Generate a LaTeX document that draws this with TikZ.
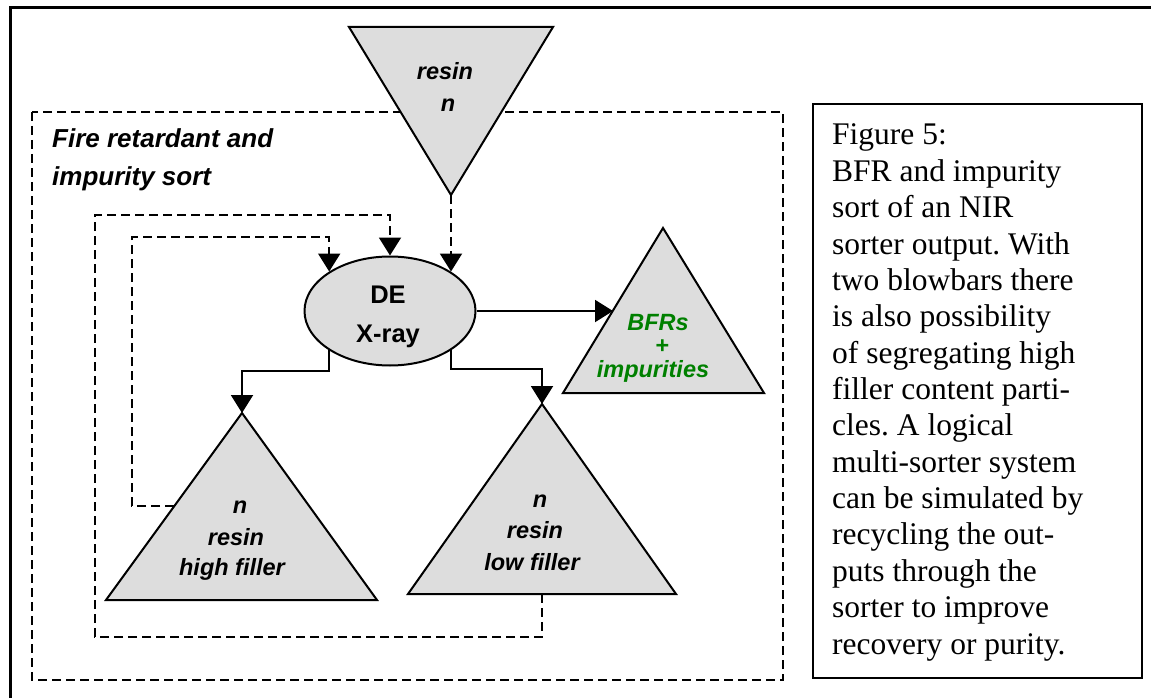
\documentclass[tikz,border=0pt]{standalone}
\usepackage{fontspec}
\setmainfont{Liberation Serif}
\newfontfamily\arialf{Liberation Sans}
\usetikzlibrary{arrows.meta,shapes.geometric}
\definecolor{boxgray}{RGB}{221,221,221}
\definecolor{bfrgreen}{RGB}{0,128,0}
\frenchspacing
\begin{document}
\begin{tikzpicture}[x=1pt,y=-1pt,
  tri/.style={draw=black, line width=2pt, fill=boxgray, line join=miter},
  dline/.style={line width=2.2pt, dash pattern=on 9pt off 5pt},
  conn/.style={line width=2pt, -{Triangle[length=18pt,width=22pt]}},
  dconn/.style={conn, dash pattern=on 9pt off 5pt},
  lbl/.style={font=\arialf\bfseries\itshape\fontsize{23.5}{28}\selectfont, inner sep=0pt, anchor=base},
  titlelbl/.style={font=\arialf\bfseries\itshape\fontsize{26}{30}\selectfont, inner sep=0pt, anchor=base west},
  delbl/.style={font=\arialf\bfseries\fontsize{25.5}{30}\selectfont, inner sep=0pt, anchor=base},
  captxt/.style={font=\fontsize{31.5}{36}\selectfont, inner sep=0pt, anchor=base west}
]
\clip (0,0) rectangle (1151,698);
% outer frame
\draw[line width=3pt] (10,8) rectangle (1190,730);
% dashed region
\draw[dline] (32,112) rectangle (783,680);
\node[titlelbl] (title1) at (52,147) {Fire retardant and};
\node[titlelbl] (title2) at (52,185) {impurity sort};

% triangle coordinates
\coordinate (rA) at (349,27);  \coordinate (rB) at (553,27);  \coordinate (rC) at (451,195);
\coordinate (bA) at (663,228); \coordinate (bL) at (563,393); \coordinate (bR) at (764,393);
\coordinate (hA) at (242,413); \coordinate (hL) at (106,600); \coordinate (hR) at (377,600);
\coordinate (lA) at (542,404); \coordinate (lL) at (408,594); \coordinate (lR) at (676,594);

\draw[tri] (rA) -- (rB) -- (rC) -- cycle;
\draw[tri] (bA) -- (bL) -- (bR) -- cycle;
\draw[tri] (hA) -- (hL) -- (hR) -- cycle;
\draw[tri] (lA) -- (lL) -- (lR) -- cycle;

% ellipse
\node[ellipse, draw, line width=2pt, fill=boxgray, minimum width=171pt, minimum height=109pt, inner sep=0pt] (de) at (390,311) {};
\node[delbl] (de1) at (388,303) {DE};
\node[delbl] (de2) at (388,342) {X-ray};

% triangle labels
\node[lbl] (r1) at (445,80) {resin};
\node[lbl] (r2) at (448,112) {n};
\node[lbl, text=bfrgreen] (b1) at (658,330) {BFRs};
\node[lbl, text=bfrgreen] (b2) at (662,353) {+};
\node[lbl, text=bfrgreen] (b3) at (653,377) {impurities};
\node[lbl] (h1) at (240,513) {n};
\node[lbl] (h2) at (236,545) {resin};
\node[lbl] (h3) at (232,575) {high filler};
\node[lbl] (l1) at (540,507) {n};
\node[lbl] (l2) at (535,538) {resin};
\node[lbl] (l3) at (532,570) {low filler};

% connector helper coordinates
\coordinate (lBm) at (542,594);
\coordinate (o1) at (95,637);
\coordinate (o2) at (95,215);
\coordinate (hE) at (174,506);
\coordinate (i1) at (132,237);
\coordinate (lc) at (242,371);
\coordinate (rc) at (542,369);
\coordinate (bIn) at (613,311);

% connectors
\draw[dconn] (rC) -- (rC |- de.33);
\draw[dconn] (lBm) |- (o1) -- (o2) -| (de.north);
\draw[dconn] (hE) -| (i1) -| (de.147);
\draw[conn] (de.213) |- (lc) -- (hA);
\draw[conn] (de.327) |- (rc) -- (lA);
\draw[conn] (de.east) -- (bIn);

% caption box
\node[draw, line width=2.2pt, minimum width=329pt, minimum height=574pt, anchor=north west, inner sep=0pt] (capbox) at (812,103) {};
\foreach \t [count=\i] in {Figure 5:,BFR and impurity,sort of an NIR,sorter output. With,two blowbars there,is also possibility,of segregating high,filler content parti-,cles. A logical,multi-sorter system,can be simulated by,recycling the out-,puts through the,sorter to improve,recovery or purity.}
  \node[captxt] (cap\i) at (832,{145+(\i-1)*36.36}) {\t};
\end{tikzpicture}
\end{document}
